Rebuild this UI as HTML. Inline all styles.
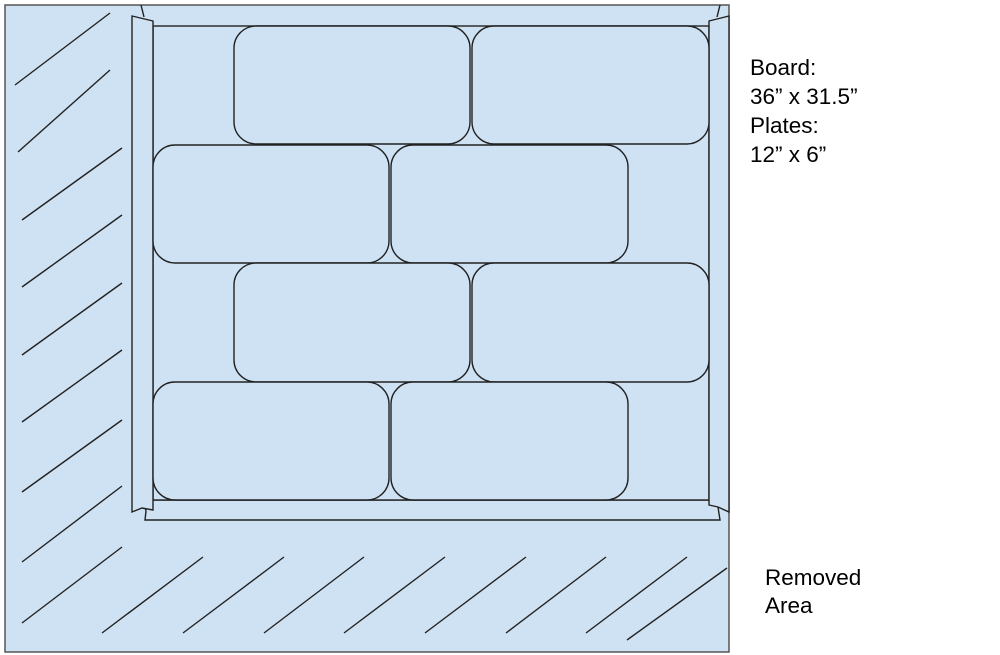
<!DOCTYPE html>
<html><head><style>body{margin:0;background:#fff}svg{display:block}</style></head><body>
<svg width="1000" height="655" viewBox="0 0 1000 655" xmlns="http://www.w3.org/2000/svg">
<defs><clipPath id="c"><rect x="6" y="6" width="722" height="645"/></clipPath></defs>
<rect x="5" y="5" width="724" height="647" fill="#cfe2f3" stroke="#555" stroke-width="1.5"/>
<g stroke="#222" stroke-width="1.4" clip-path="url(#c)">
<line x1="15" y1="85" x2="110" y2="13"/>
<line x1="18" y1="152" x2="110" y2="70"/>
<line x1="22" y1="220" x2="122" y2="148"/>
<line x1="22" y1="287" x2="122" y2="215"/>
<line x1="22" y1="355" x2="122" y2="283"/>
<line x1="22" y1="422" x2="122" y2="350"/>
<line x1="22" y1="492" x2="122" y2="420"/>
<line x1="22" y1="562" x2="122" y2="486"/>
<line x1="22" y1="623" x2="122" y2="547"/>
<line x1="102" y1="633" x2="203" y2="557"/>
<line x1="183" y1="633" x2="284" y2="557"/>
<line x1="264" y1="633" x2="364" y2="557"/>
<line x1="344" y1="633" x2="445" y2="557"/>
<line x1="425" y1="633" x2="526" y2="557"/>
<line x1="506" y1="633" x2="606" y2="557"/>
<line x1="586" y1="633" x2="687" y2="557"/>
<line x1="627" y1="640" x2="727" y2="568"/>
</g>
<g fill="#cfe2f3" stroke="#222" stroke-width="1.4">
<path d="M141 5 L144 17"/>
<path d="M720 5 L717 17"/>
<polygon points="143,500 720,500 718,507 720,520 145,520 146,511"/>
<rect x="153" y="26" width="556" height="474"/>
<polygon points="132,16 153,21 153,510 142,508 132,512"/>
<polygon points="709,21 729,16 729,512 718,507 709,505"/>
<rect x="234" y="26" width="236" height="118" rx="22"/>
<rect x="472" y="26" width="237" height="118" rx="22"/>
<rect x="153" y="145" width="236" height="118" rx="22"/>
<rect x="391" y="145" width="237" height="118" rx="22"/>
<rect x="234" y="263" width="236" height="119" rx="22"/>
<rect x="472" y="263" width="237" height="119" rx="22"/>
<rect x="153" y="382" width="236" height="118" rx="22"/>
<rect x="391" y="382" width="237" height="118" rx="22"/>
</g>
<g font-family="Liberation Sans, sans-serif" font-size="22.5" fill="#000">
<text x="750" y="75">Board:</text>
<text x="750" y="104">36” x 31.5”</text>
<text x="750" y="133">Plates:</text>
<text x="750" y="162">12” x 6”</text>
<text x="765" y="585">Removed</text>
<text x="765" y="613">Area</text>
</g>
</svg>
</body></html>
